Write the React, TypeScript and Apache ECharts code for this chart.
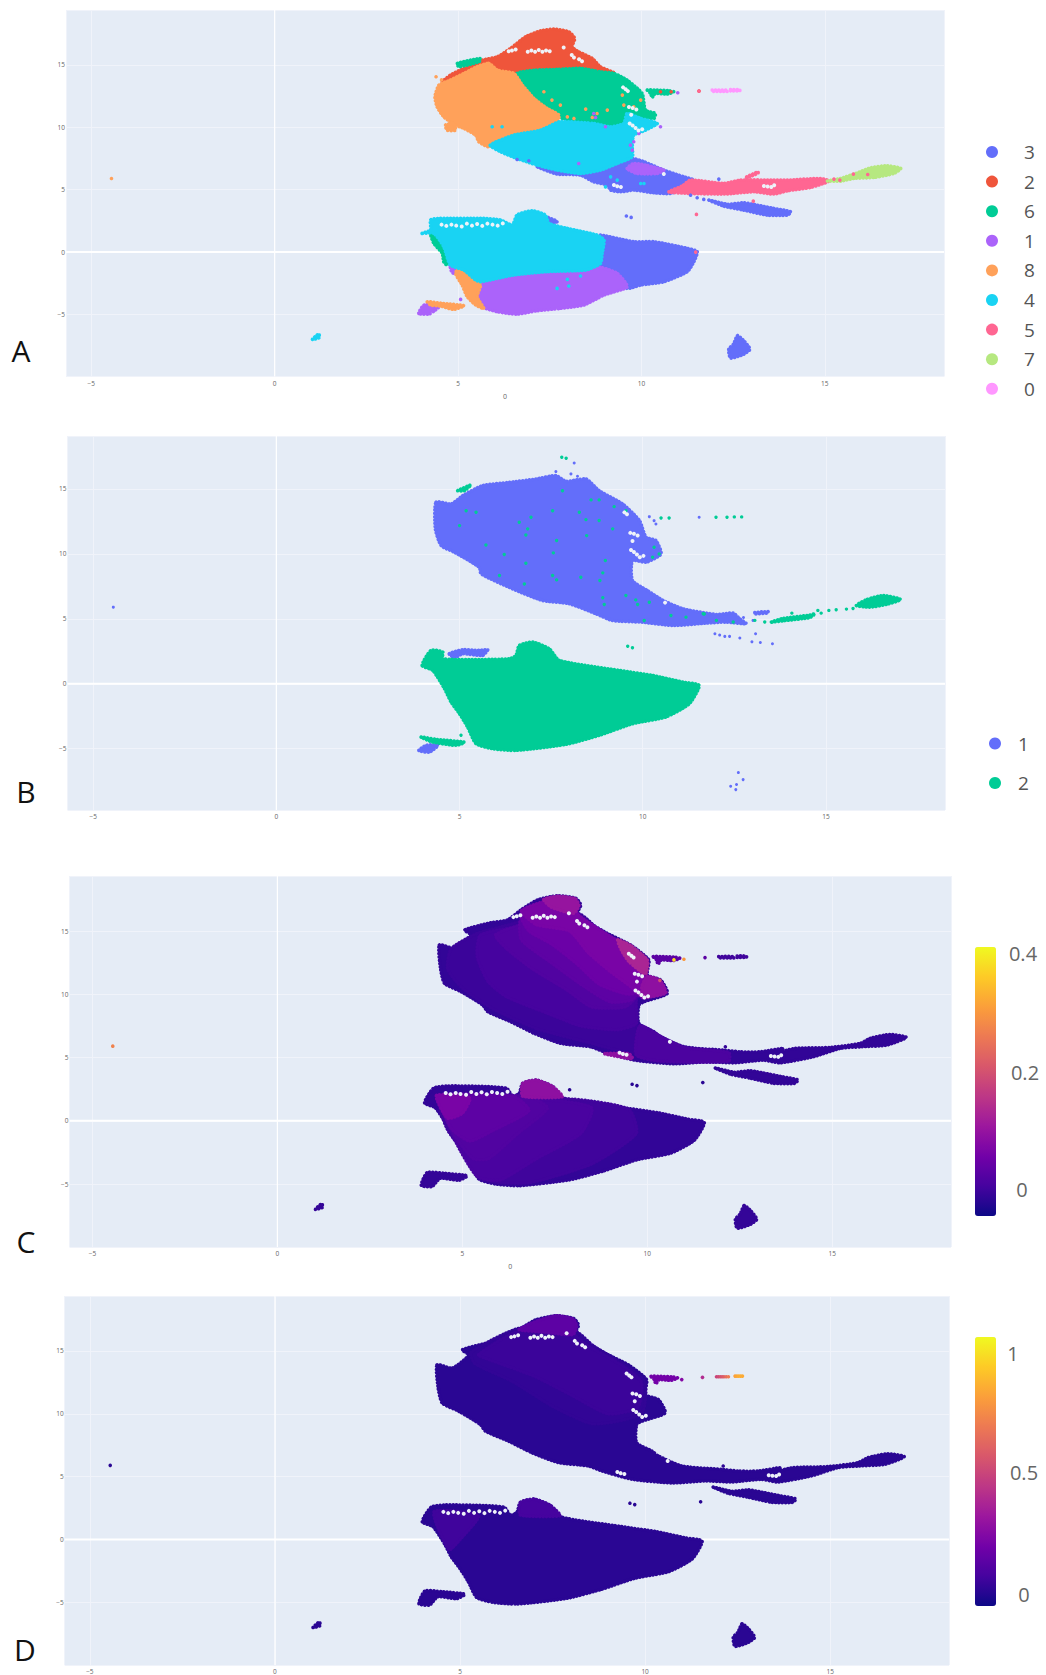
import React, { useEffect, useRef } from "react";
import * as echarts from "echarts";

type P = number[];
const FONT = "'Open Sans', 'Liberation Sans', sans-serif";
const BG = "#e5ecf6";
const HOLE = "#eef2f9";
const PLASMA = ["#0d0887", "#46039f", "#7201a8", "#9c179e", "#bd3786", "#d8576b", "#ed7953", "#fb9f3a", "#fdca26", "#f0f921"];

// ---------- Panel A clusters (umap coordinates)
const C2_RED: P[][] = [[[5.66,15.38],[6.07,15.65],[6.43,16.32],[6.84,17.25],[7.25,17.73],[7.61,17.87],[8.02,17.65],[8.18,17.12],[8.11,16.45],[8.29,16.05],[8.66,15.52],[8.88,14.85],[9.25,14.37],[8.88,14.45],[8.34,14.72],[7.7,14.64],[7.07,14.58],[6.61,14.32],[6.16,14.45],[5.88,15.25],[5.61,14.85],[5.29,14.32],[4.79,13.91],[4.57,13.65],[4.79,14.18],[5.16,14.72],[5.38,14.98]]];
const C8_ORANGE: P[][] = [
  [[5.84,15.12],[6.07,14.58],[6.52,14.32],[6.75,13.38],[7.07,12.31],[7.43,11.51],[7.75,10.98],[7.7,10.44],[7.25,9.77],[6.52,9.37],[5.84,8.44],[5.57,8.84],[5.48,9.37],[5.16,9.91],[4.93,10.18],[4.61,10.84],[4.43,11.64],[4.37,12.44],[4.48,13.38],[4.79,13.78],[5.16,14.32],[5.52,14.85]],
  [[4.66,10.18],[4.88,10.31],[4.93,9.77],[4.7,9.77]],
  [[5.02,-1.31],[5.25,-1.57],[5.61,-2.64],[5.52,-3.58],[5.7,-4.51],[5.48,-4.24],[5.25,-3.58],[5.11,-2.64],[4.93,-1.71]],
  [[4.16,-3.98],[4.57,-4.11],[5.16,-4.3],[4.88,-4.59],[4.52,-4.32],[4.25,-4.24]],
];
const C6_GREEN: P[][] = [
  [[6.61,14.32],[7.07,14.58],[7.7,14.64],[8.34,14.72],[8.88,14.45],[9.25,14.32],[9.61,13.78],[10.02,12.71],[10.11,11.38],[10.38,11.11],[10.34,10.71],[9.7,10.84],[9.61,10.17],[9.16,10.04],[8.7,10.31],[8.07,10.44],[7.75,10.84],[7.43,11.51],[7.07,12.31],[6.75,13.38]],
  [[4.98,15.12],[5.61,15.52],[5.57,15.25],[5.02,14.85]],
  [[10.16,12.98],[10.43,12.98],[10.75,12.93],[10.88,12.85],[10.7,12.66],[10.38,12.71],[10.29,12.39],[10.25,12.71]],
  [[4.25,1.5],[4.48,1.23],[4.66,0.56],[4.79,-0.64],[4.7,-1.04],[4.61,-0.77],[4.57,-0.1],[4.34,0.7]],
];
const C4_CYAN: P[][] = [
  [[5.88,8.57],[6.52,9.37],[7.25,9.77],[7.75,10.44],[8.07,10.44],[8.7,10.31],[9.16,10.04],[9.52,10.31],[9.61,11.11],[9.98,10.71],[10.43,10.31],[10.11,9.77],[9.79,9.37],[9.75,8.44],[9.75,7.64],[9.34,7.1],[8.88,6.57],[8.34,6.3],[7.7,6.57],[7.16,6.97],[6.61,7.5],[6.16,8.04]],
  [[4.02,1.5],[4.25,1.76],[4.25,2.57],[4.48,2.7],[5.7,2.7],[6.16,2.57],[6.48,2.17],[6.61,2.97],[7.02,3.31],[7.38,2.97],[7.48,2.3],[7.98,1.9],[8.79,1.36],[8.98,0.96],[8.93,-0.1],[8.88,-0.91],[8.48,-1.44],[7.43,-1.57],[6.52,-1.84],[5.61,-2.38],[5.48,-2.24],[5.16,-1.44],[4.79,-1.04],[4.61,0.43],[4.34,1.5]],
  [[1.03,-7],[1.2,-6.55],[1.22,-6.85]],
];
const C3_INDIGO: P[][] = [
  [[7.16,6.84],[7.7,6.44],[8.34,6.25],[8.88,6.84],[9.43,7.1],[9.75,7.5],[10.07,7.24],[10.61,6.57],[11.16,6.03],[11.43,5.77],[11.16,5.23],[10.79,4.7],[10.34,4.75],[9.79,4.97],[9.43,4.83],[9.16,4.97],[9.07,5.37],[8.7,5.63],[8.34,6.17],[7.7,6.25]],
  [[11.84,4.17],[12.34,3.84],[12.79,3.95],[13.16,3.76],[13.61,3.5],[14.07,3.23],[13.98,2.96],[13.43,2.96],[12.79,3.36],[12.25,3.68]],
  [[8.88,1.36],[9.79,0.83],[10.34,0.83],[11.25,0.3],[11.52,0.03],[11.43,-0.77],[11.25,-1.57],[10.61,-2.38],[9.98,-2.64],[9.61,-2.91],[9.48,-2.11],[9.16,-1.44],[8.79,-1.04],[8.93,-0.1],[8.98,0.96]],
  [[7.38,2.83],[7.7,2.44],[7.48,2.17]],
];
const ISLAND: P[] = [[12.62,-6.7],[12.79,-7.1],[12.96,-7.78],[12.79,-8.18],[12.43,-8.49],[12.38,-7.78],[12.51,-7.37]];
const C1_PURPLE: P[][] = [
  [[9.61,6.7],[9.79,7.1],[10.11,6.97],[10.61,6.57],[10.43,6.3],[9.88,6.3]],
  [[5.57,-2.51],[6.43,-1.92],[7.43,-1.57],[8.48,-1.44],[8.88,-1.23],[9.34,-1.71],[9.61,-2.78],[8.98,-3.44],[8.43,-4.24],[7.79,-4.51],[7.16,-4.7],[6.61,-4.97],[6.07,-4.78],[5.66,-4.38],[5.52,-3.58]],
  [[4.79,-1.12],[5.02,-1.17],[4.98,-1.71],[4.84,-1.65]],
  [[3.93,-4.91],[4.07,-4.25],[4.52,-4.25],[4.38,-4.65],[4.2,-4.97]],
];
const C5_PINK: P[][] = [
  [[10.75,4.83],[11.11,5.29],[11.34,5.77],[12.25,5.5],[12.7,5.77],[13.61,5.77],[13.98,5.77],[14.88,5.9],[15.11,5.69],[14.61,5.18],[13.98,4.91],[13.61,4.65],[13.07,4.83],[12.25,4.65],[11.34,4.7]],
  [[12.87,6.03],[13.18,6.43],[13.18,6.33],[12.87,5.95]],
];
const C7_LIME: P[][] = [[[15.07,5.69],[15.43,5.9],[15.84,6.3],[16.25,6.75],[16.7,6.92],[17.07,6.7],[16.88,6.3],[16.34,5.98],[15.79,5.9],[15.43,5.69]]];
const C0_ROSE: P[][] = [
  [[11.93,12.98],[12.34,12.98],[12.34,12.88],[11.93,12.88]],
  [[12.43,13.02],[12.68,13.02],[12.68,12.92],[12.43,12.92]],
];
const D2_RED: P[] = [[10.52,12.85],[10.81,12.85],[11.57,12.9]];
const D8_ORANGE: P[] = [[7.34,12.85],[7.56,12.18],[7.79,11.78],[7.98,10.84],[8.16,10.71],[8.48,11.46],[8.79,11.11],[9.07,11.38],[8.66,10.79],[9.48,12.58],[9.98,12.18],[9.79,11.64],[9.52,11.78],[-4.45,5.9],[4.4,14.05],[4.55,13.8]];
const D1_PURPLE: P[] = [[8.7,11.11],[9.02,10.04],[8.75,10.79],[9.7,8.57],[9.75,8.17],[9.79,8.84],[9.93,9.51],[10.52,10.04],[8.29,7.1],[5.07,-3.79],[10.99,12.77]];
const D4_CYAN: P[] = [[9.16,6.03],[9.34,5.77],[9.98,5.5],[10.07,5.5],[9.02,5.23],[7.7,-2.91],[7.98,-2.19],[8.02,-2.72],[8.34,-1.92],[5.93,10.04],[6.2,10.04]];
const D3_INDIGO: P[] = [[6.61,7.42],[6.93,7.32],[11.34,4.56],[11.52,4.35],[11.7,4.22],[12.11,5.85],[9.59,2.89],[9.72,2.78]];
const D5_PINK: P[] = [[15.25,5.85],[15.41,5.77],[15.78,6.25],[16.17,6.22],[11.5,3.02],[13.05,4.08],[11.48,0.0],[11.57,12.9]];

const HOLES_TOP: P[] = [[6.38,16.1],[6.47,16.16],[6.57,16.24],[6.9,16.05],[7.0,16.15],[7.1,16.05],[7.2,16.2],[7.3,16.05],[7.4,16.15],[7.5,16.1],[7.88,16.4],[8.1,15.8],[8.16,15.6],[8.3,15.45],[8.38,15.3],[9.5,13.2],[9.57,13.05],[9.63,12.9],[9.66,11.62],[9.76,11.55],[9.86,11.42],[9.72,11.0],[9.76,10.15],[9.84,9.95],[9.92,9.75],[10.02,9.85],[9.68,10.3],[10.61,6.25],[9.25,5.37],[9.34,5.28],[9.44,5.22]];
const HOLES_FRINGE: P[] = [[4.55,2.2],[4.68,2.1],[4.82,2.2],[4.95,2.12],[5.1,2.05],[5.24,2.28],[5.38,2.12],[5.52,2.25],[5.66,2.1],[5.8,2.28],[5.94,2.2],[6.08,2.12],[6.22,2.3]];
const HOLES_PINK: P[] = [[13.34,5.29],[13.44,5.25],[13.54,5.22],[13.62,5.35]];
const HOLES_TAIL_CD: P[] = [[13.34,5.12],[13.44,5.08],[13.54,5.05],[13.62,5.18]];

// ---------- Panel B batches
const B1_BODY: P[][] = [
  [[4.36,13.98],[4.77,13.85],[5.09,14.49],[5.63,15.26],[6.36,15.51],[7.09,15.77],[7.63,16.03],[7.91,15.59],[8.45,15.77],[8.81,14.87],[9.45,13.85],[9.91,12.57],[10.09,11.28],[10.36,11.03],[10.5,10],[10.09,9.36],[9.72,9.49],[9.72,7.95],[10.13,7.18],[10.56,6.41],[11.1,5.77],[12.01,5.34],[12.47,5.44],[12.65,5],[12.83,4.62],[12.28,4.75],[11.74,4.67],[10.83,4.49],[10,4.74],[9.18,4.87],[8.72,5.39],[8,6.16],[7.27,6.41],[6.45,7.31],[5.59,8.46],[5.54,8.97],[4.86,10.13],[4.5,10.64],[4.34,11.92]],
  [[13.06,5.48],[13.42,5.56],[13.42,5.46],[13.06,5.38]],
  [[4.72,2.31],[5.09,2.62],[5.54,2.57],[5.77,2.62],[5.63,2.18],[5.09,2.31],[4.86,2]],
  [[3.89,-5.13],[4.09,-4.74],[4.41,-4.74],[4.18,-5.26]],
];
const B2_BODY: P[][] = [
  [[3.98,1.41],[4.22,2.57],[4.54,2.44],[4.54,1.92],[6.36,1.92],[6.54,2.18],[6.63,2.95],[7,3.21],[7.45,2.69],[7.72,1.8],[9.36,1.03],[10.27,0.64],[11.09,0.13],[11.54,-0.13],[11.27,-1.54],[10.63,-2.56],[9.72,-3.08],[8.81,-3.97],[7.9,-4.67],[6.54,-5.13],[5.9,-5],[5.45,-4.61],[5.22,-3.33],[5,-2.31],[4.77,-1.41],[4.59,-0.38],[4.27,1.03]],
  [[13.51,4.75],[13.83,5.03],[14.56,5.29],[14.7,5.4],[14.56,5.1],[13.83,4.85]],
  [[15.83,6.03],[16.1,6.47],[16.56,6.8],[17.04,6.49],[16.65,6.11],[16.19,5.9]],
  [[4.95,14.87],[5.31,15.31],[5.13,14.87]],
  [[3.95,-4.1],[4.36,-4.28],[5.13,-4.5],[4.91,-4.74],[4.27,-4.49]],
];
const B1_DOTS: P[] = [[8.13,17],[7.63,16.34],[8.04,16.16],[8.22,15.98],[10.18,12.87],[10.31,12.56],[10.36,12.3],[11.54,12.82],[11.97,3.85],[12.1,3.75],[12.24,3.65],[12.37,3.65],[12.65,3.52],[12.98,3.23],[13.21,3.18],[13.54,3.08],[13.08,3.85],[13.01,4.88],[12.75,5.1],[-4.45,5.9],[12.61,-6.84],[12.74,-7.38],[12.4,-7.89],[12.56,-7.76],[12.54,-8.15]];
const B2_DOTS: P[] = [[7.79,17.44],[7.91,17.36],[5,12.18],[5.45,13.21],[5.18,13.33],[6.63,12.44],[6.95,12.82],[6.86,11.93],[6.81,11.46],[5.72,10.69],[6.22,9.95],[6.81,9.28],[7.56,10.08],[7.65,11.03],[7.54,13.33],[8.27,13.21],[8.45,12.64],[8.81,12.57],[9.18,11.93],[8.47,11.41],[8.98,9.49],[8.91,8.54],[8.83,7.95],[8.31,8.21],[7.54,8.34],[7.65,8],[6.77,7.69],[6.09,8.34],[8.91,6.62],[8.95,6.1],[9.54,6.8],[9.81,6.46],[9.86,6.1],[10.18,6.28],[10.04,4.87],[10.77,5.26],[11.18,5.13],[11.68,5.38],[10.27,9.74],[10.45,10],[10.31,10.51],[7.81,14.87],[8.59,14.16],[8.81,14.16],[9.22,13.64],[9.54,13.33],[10.5,12.77],[10.72,12.77],[12,12.82],[12.3,12.82],[12.5,12.85],[12.7,12.85],[11.65,5.39],[12.01,4.88],[12.47,4.75],[13.06,4.88],[13.33,4.75],[14.07,5.44],[14.78,5.65],[14.87,5.44],[15.08,5.65],[15.28,5.7],[15.56,5.75],[15.74,5.8],[9.59,2.89],[9.72,2.78],[5.04,-3.97]];
const HOLES_B: P[] = [[9.5,13.2],[9.57,13.05],[9.66,11.62],[9.76,11.55],[9.86,11.42],[9.72,11.0],[9.76,10.15],[9.84,9.95],[9.92,9.75],[10.02,9.85],[9.68,10.3],[10.61,6.25]];

// ---------- Panels C and D: shared outlines
const UNION_UPPER: P[] = [[4.38,13.89],[4.79,13.63],[5.24,14.68],[5.06,15.08],[5.78,15.66],[6.22,15.87],[6.58,16.66],[7.03,17.45],[7.57,17.79],[8.07,17.58],[8.2,17.05],[8.11,16.4],[8.38,15.74],[8.92,14.81],[9.55,13.89],[10.04,12.71],[10,11.52],[10.36,11.13],[10.54,10.07],[9.91,9.41],[9.77,9.15],[9.77,7.7],[10.18,7.04],[10.36,6.64],[10.99,5.85],[12.07,5.58],[12.52,5.45],[13.05,5.45],[13.68,5.72],[13.41,5.32],[14,5.72],[14.94,5.8],[15.75,6.11],[16.02,6.51],[16.56,6.82],[17,6.59],[16.47,5.98],[15.79,5.85],[15.21,5.72],[14.49,5.06],[13.59,4.58],[13.14,4.79],[12.34,4.58],[11.62,4.66],[10.72,4.5],[9.64,4.8],[8.83,5.46],[8.47,5.85],[7.66,6.12],[6.94,6.91],[6.31,7.83],[5.69,8.62],[5.55,9.15],[4.97,10.2],[4.52,10.86],[4.41,12.05]];
const UNION_LOWER: P[] = [[3.98,1.41],[4.22,2.57],[4.6,2.75],[5.7,2.7],[6.2,2.55],[6.36,1.92],[6.54,2.18],[6.63,2.95],[7,3.21],[7.45,2.69],[7.72,1.8],[9.36,1.03],[10.27,0.64],[11.09,0.13],[11.54,-0.13],[11.27,-1.54],[10.63,-2.56],[9.72,-3.08],[8.81,-3.97],[7.9,-4.67],[6.54,-5.13],[5.9,-5],[5.45,-4.61],[5.22,-3.33],[5,-2.31],[4.77,-1.41],[4.59,-0.38],[4.27,1.03]];
const UNION_LEFTTAIL: P[] = [[3.89,-5.1],[4.05,-4.1],[4.5,-4.15],[5.13,-4.35],[4.91,-4.7],[4.4,-4.55],[4.18,-5.2]];
const LOW_TAIL: P[] = C3_INDIGO[1];
const SMALL: P[] = [[1.03,-7],[1.2,-6.55],[1.22,-6.85]];
const SPECK_STRIP: P[] = [[10.16,12.98],[10.43,12.98],[10.75,12.93],[10.88,12.85],[10.7,12.66],[10.38,12.71],[10.29,12.39],[10.25,12.71]];

// panel C regions painted back to front: [value, outline]
const C_VALUES = [-0.012, -0.012, -0.012, -0.004, 0.006, 0.018, 0.032, 0.048, 0.064, 0.128, 0.1, 0.09, 0.09, 0.012, 0, 0.01, 0.018, 0.032, 0.064, 0.09, -0.01, -0.01, -0.01, 0.03, 0.0, 0.0];
const C_OUTLINES: P[][] = [
  UNION_UPPER, UNION_LOWER, LOW_TAIL,
  [[4.7,13.6],[5.4,14.8],[6.4,15.6],[7.3,16.5],[8.2,16.3],[9,14],[9.7,11],[9.7,7.5],[10.2,6.6],[9.6,5.4],[8.4,6.2],[7,7.3],[5.8,8.9],[5,10.5],[4.6,12]],
  [[5.5,14.7],[7,15.5],[8.3,15.5],[9.5,13.6],[9.9,12.5],[9.9,11],[9.7,9.5],[9.7,7.7],[9.2,7.2],[8.2,7.5],[7.3,8.5],[6.2,9.8],[5.7,11],[5.4,13]],
  [[5.9,14.7],[7,15.8],[8.2,15.8],[9.4,13.7],[9.85,12],[9.8,10.2],[9.4,9],[8.5,9],[7.8,10.4],[6.9,12],[6.2,13.6]],
  [[6.6,16],[8.1,16],[8.5,15.4],[9.4,13.8],[9.85,12.4],[9.85,10.8],[9.6,9.6],[9,9.4],[8.2,10.8],[7.4,12.5],[6.6,14.3]],
  [[6.6,16.2],[7.5,16.8],[8.1,16.3],[8.4,15.5],[9.4,13.9],[9.9,12.4],[9.9,10.5],[9.5,10],[8.7,10.8],[8.1,12.4],[7.4,14],[6.8,15]],
  [[6.6,16.6],[7.3,17.4],[8.05,17.5],[8.1,16.4],[8.4,15.7],[9.3,14],[10,12.7],[9.95,11.5],[10.3,11.1],[10.4,10.2],[9.9,9.7],[9.6,10.5],[9,11.8],[8.4,13.3],[7.9,15],[7,15.5]],
  [[9.2,14.3],[9.55,13.85],[10,12.7],[9.95,11.6],[9.5,12.6],[9.3,13.5]],
  [[7.2,17.5],[7.6,17.75],[8.05,17.55],[8.15,17],[8,16.4],[7.4,16.9]],
  [[10,11.4],[10.34,11.1],[10.5,10.1],[9.9,9.8],[9.85,10.6]],
  [[8.85,5.3],[9.6,4.9],[9.5,5.3]],
  [[9.8,7.5],[10.4,6.6],[11,5.8],[12.2,5.4],[12.2,4.7],[10.4,4.7],[9.7,5.2]],
  [[4.4,1.7],[8,1.7],[9.5,0.9],[9.7,-1],[8.5,-3.4],[6.8,-4.9],[5.7,-4.7],[5.1,-2.6],[4.6,-0.7]],
  [[4.5,1.5],[7.5,1.6],[8.5,1],[8.2,-1],[7,-3],[6,-4.7],[5.4,-4.4],[4.8,-1.5]],
  [[4.4,1.9],[6.8,1.9],[7.3,1],[6.5,-1],[5.7,-3],[5.3,-3],[4.8,-1.2]],
  [[4.4,1.9],[6.4,1.9],[6.8,0.8],[5.8,-0.8],[5.2,-1.6],[4.7,-0.6]],
  [[4.3,2],[5.2,1.8],[5,0.6],[4.6,0.2]],
  [[6.63,1.95],[6.63,2.95],[7,3.21],[7.45,2.69],[7.7,1.9]],
  UNION_LEFTTAIL, ISLAND, SMALL, SPECK_STRIP, C0_ROSE[0], C0_ROSE[1],
];
const C_POINTS: P[] = [[-4.45,5.9,0.27],[10.72,12.72,0.38],[10.99,12.77,0.3],[11.56,12.9,0.03],[10.34,11.1,0.2],[11.5,3.02,-0.02],[9.59,2.89,-0.02],[9.72,2.78,-0.02],[7.9,2.45,-0.02],[12.11,5.85,-0.01]];

const D_VALUES = [0.012, 0.012, 0.012, 0.03, 0.05, 0.14, 0.06, 0.075, 0.012, 0.012, 0.012, 0.2];
const D_OUTLINES: P[][] = [
  UNION_UPPER, UNION_LOWER, LOW_TAIL,
  [[5.3,14.9],[6.6,16.8],[8.1,16.6],[8.6,15.4],[9.5,13.8],[10,12.5],[9.9,10],[8.6,9.2],[7.5,10.6],[6.4,12.6],[5.4,14]],
  [[5.5,14.7],[6.6,16.6],[8,16.4],[8.4,15.5],[9.4,13.8],[9.9,12.5],[9.8,10.5],[9,10],[8,11.5],[7,13],[5.8,14.3]],
  [[6.6,16.7],[7.1,17.4],[7.6,17.8],[8.05,17.55],[8.15,17],[8.05,16.3],[7.3,16.5]],
  [[4.3,2.2],[5.5,1.9],[5,0],[4.7,-0.8]],
  [[6.63,1.95],[6.63,2.95],[7,3.21],[7.45,2.69],[7.7,1.9]],
  UNION_LEFTTAIL, ISLAND, SMALL, SPECK_STRIP,
];
const D_POINTS: P[] = [[-4.45,5.9,0.01],[11.55,12.9,0.4],[11.93,12.95,0.5],[11.98,12.95,0.52],[12.03,12.95,0.55],[12.08,12.95,0.57],[12.13,12.95,0.6],[12.19,12.95,0.65],[12.25,12.95,0.7],[12.43,13,0.82],[12.48,13,0.84],[12.53,13,0.86],[12.58,13,0.86],[12.63,13,0.85],[10.99,12.72,0.25],[11.5,3,0.01],[9.59,2.89,0.01],[9.72,2.78,0.01],[12.11,5.85,0.02]];

// ---------- Labels
const X_TICKS = [-5, 0, 5, 10, 15];
const Y_TICKS = [-5, 0, 5, 10, 15];
const LEGEND_A = ["3", "2", "6", "1", "8", "4", "5", "7", "0"];
const LEGEND_A_COLORS = ["#636efa", "#ef553b", "#00cc96", "#ab63fa", "#ffa15a", "#19d3f3", "#ff6692", "#b6e880", "#ff97ff"];
const LEGEND_B = ["1", "2"];
const LEGEND_B_COLORS = ["#636efa", "#00cc96"];

const PANELS = [
  { left: 66, top: 10, right: 944, bottom: 376.5, xr: [-5.69, 18.25], yr: [-9.97, 19.4], xname: "0" },
  { left: 67.5, top: 436, right: 945, bottom: 810, xr: [-5.7, 18.25], yr: [-9.72, 19.08], xname: "" },
  { left: 69.5, top: 876, right: 951, bottom: 1247, xr: [-5.62, 18.21], yr: [-9.98, 19.35], xname: "0" },
  { left: 64.7, top: 1296, right: 949, bottom: 1665.7, xr: [-5.68, 18.21], yr: [-9.98, 19.37], xname: "" },
];

const fmt = (v: number) => (X_TICKS.includes(v) || Y_TICKS.includes(v) ? String(v).replace("-", "\u2212") : "");
const polyStyle = (c: string) => ({ fill: c, stroke: c, lineWidth: 3.6, lineDash: [0.1, 3.2], lineCap: "round", lineJoin: "round" });

function polySeries(panel: number, name: string, color: string, polys: P[][]) {
  return {
    type: "custom", name, xAxisIndex: panel, yAxisIndex: panel, silent: true,
    itemStyle: { color },
    data: polys.map((p) => p[0]),
    renderItem: (params: any, api: any) => ({
      type: "polygon",
      shape: { points: polys[params.dataIndex].map((p) => api.coord(p)), smooth: 0.2 },
      style: polyStyle(color),
    }),
  };
}
function dotSeries(panel: number, name: string, color: string, pts: P[], size = 3.6) {
  return {
    type: "scatter", name, xAxisIndex: panel, yAxisIndex: panel, silent: true,
    symbol: "circle", symbolSize: size, itemStyle: { color, opacity: 1 }, data: pts,
  };
}
function mappedPolySeries(panel: number, polys: P[][], values: number[]) {
  return {
    type: "custom", name: "v" + panel, xAxisIndex: panel, yAxisIndex: panel, silent: true,
    encode: { x: 0, y: 1 },
    data: polys.map((p, i) => [p[0][0], p[0][1], values[i]]),
    renderItem: (params: any, api: any) => ({
      type: "polygon",
      shape: { points: polys[params.dataIndex].map((p) => api.coord(p)), smooth: 0.2 },
      style: polyStyle(api.visual("color")),
    }),
  };
}
function zeroLines(panel: number, xr: number[], yr: number[]) {
  const base = { type: "line", z: 1, xAxisIndex: panel, yAxisIndex: panel, silent: true, symbol: "none" };
  return [
    { ...base, name: "zx" + panel, lineStyle: { color: "#ffffff", width: 2 }, data: [[xr[0], 0], [xr[1], 0]] },
    { ...base, name: "zy" + panel, lineStyle: { color: "#ffffff", width: 1.2 }, data: [[0, yr[0]], [0, yr[1]]] },
  ];
}

export default function App() {
  const ref = useRef<HTMLDivElement>(null);
  useEffect(() => {
    document.body.style.margin = "0";
    document.body.style.background = "#ffffff";
    const chart = echarts.init(ref.current!, undefined, { renderer: "svg" });
    const series: any[] = [];
    PANELS.forEach((p, i) => series.push(...zeroLines(i, p.xr, p.yr)));
    const HOLES_ALL = [...HOLES_TOP, ...HOLES_FRINGE];

    // Panel A, in the plotting order of its legend
    series.push(polySeries(0, "3", LEGEND_A_COLORS[0], [...C3_INDIGO, ISLAND]), dotSeries(0, "3", LEGEND_A_COLORS[0], D3_INDIGO));
    series.push(polySeries(0, "2", LEGEND_A_COLORS[1], C2_RED), dotSeries(0, "2", LEGEND_A_COLORS[1], D2_RED));
    series.push(polySeries(0, "6", LEGEND_A_COLORS[2], C6_GREEN));
    series.push(polySeries(0, "1", LEGEND_A_COLORS[3], C1_PURPLE));
    series.push(polySeries(0, "8", LEGEND_A_COLORS[4], C8_ORANGE));
    series.push(polySeries(0, "4", LEGEND_A_COLORS[5], C4_CYAN));
    series.push(dotSeries(0, "8", LEGEND_A_COLORS[4], D8_ORANGE), dotSeries(0, "1", LEGEND_A_COLORS[3], D1_PURPLE), dotSeries(0, "4", LEGEND_A_COLORS[5], D4_CYAN));
    series.push(polySeries(0, "5", LEGEND_A_COLORS[6], C5_PINK));
    series.push(polySeries(0, "7", LEGEND_A_COLORS[7], C7_LIME), dotSeries(0, "5", LEGEND_A_COLORS[6], D5_PINK));
    series.push(polySeries(0, "0", LEGEND_A_COLORS[8], C0_ROSE));
    series.push(dotSeries(0, "holesA", HOLE, [...HOLES_ALL, ...HOLES_PINK], 4));

    // Panel B
    series.push(polySeries(1, "1", LEGEND_B_COLORS[0], B1_BODY), dotSeries(1, "1", LEGEND_B_COLORS[0], B1_DOTS, 3));
    series.push(polySeries(1, "2", LEGEND_B_COLORS[1], B2_BODY), dotSeries(1, "2", LEGEND_B_COLORS[1], B2_DOTS, 3.4));
    series.push(dotSeries(1, "holesB", HOLE, HOLES_B, 4));

    // Panels C and D, coloured through the visual maps
    const cIdx: number[] = [];
    cIdx.push(series.length); series.push(mappedPolySeries(2, C_OUTLINES, C_VALUES));
    series.push(dotSeries(2, "holesC", HOLE, [...HOLES_ALL, ...HOLES_TAIL_CD], 4));
    cIdx.push(series.length); series.push({ ...dotSeries(2, "pc", "#000", C_POINTS, 3.6), itemStyle: { opacity: 1 } });
    const dIdx: number[] = [];
    dIdx.push(series.length); series.push(mappedPolySeries(3, D_OUTLINES, D_VALUES));
    series.push(dotSeries(3, "holesD", HOLE, [...HOLES_ALL, ...HOLES_TAIL_CD], 4));
    dIdx.push(series.length); series.push({ ...dotSeries(3, "pd", "#000", D_POINTS, 3.6), itemStyle: { opacity: 1 } });

    const label = (text: string, x: number, y: number, size: number, color: string, align = "center") => ({
      type: "text", x, y, silent: true,
      style: { text, fill: color, font: `${size}px ${FONT}`, textAlign: align, textVerticalAlign: "middle" },
    });
    const vm = (index: number[], min: number, max: number, left: number, top: number, w: number, h: number) => ({
      type: "continuous", seriesIndex: index, dimension: 2, min, max, left, top, itemWidth: w, itemHeight: h,
      padding: 0, calculable: false, hoverLink: false, realtime: false, orient: "vertical",
      inRange: { color: PLASMA }, borderWidth: 0, text: undefined,
    });
    const legend = (names: string[], colors: string[], left: number, top: number, gap: number, pad: number) => ({
      orient: "vertical", left, top, padding: 0, itemWidth: 12, itemHeight: 12, itemGap: gap,
      icon: "circle", selectedMode: false,
      textStyle: { fontFamily: FONT, fontSize: 19, color: "#555555", padding: [0, 0, 0, pad] },
      data: names.map((name, i) => ({ name, itemStyle: { color: colors[i] } })),
    });

    chart.setOption({
      animation: false,
      backgroundColor: "#ffffff",
      grid: PANELS.map((p) => ({
        left: p.left, top: p.top, width: p.right - p.left, height: p.bottom - p.top,
        show: true, backgroundColor: BG, borderWidth: 0,
      })),
      xAxis: PANELS.map((p, i) => ({
        type: "value", gridIndex: i, min: p.xr[0], max: p.xr[1], minInterval: 5, maxInterval: 5,
        name: p.xname, nameLocation: "middle", nameGap: 16,
        nameTextStyle: { fontSize: 7, color: "#666666", fontFamily: FONT },
        axisLine: { show: false }, axisTick: { show: false },
        axisLabel: { fontSize: 6.5, color: "#666666", fontFamily: FONT, margin: 3, formatter: fmt, showMinLabel: false, showMaxLabel: false },
        splitLine: { show: true, lineStyle: { color: "#f0f3fa", width: 1 } },
      })),
      yAxis: PANELS.map((p, i) => ({
        type: "value", gridIndex: i, min: p.yr[0], max: p.yr[1], minInterval: 5, maxInterval: 5,
        axisLine: { show: false }, axisTick: { show: false },
        axisLabel: { fontSize: 6.5, color: "#666666", fontFamily: FONT, margin: 1, formatter: fmt, showMinLabel: false, showMaxLabel: false },
        splitLine: { show: true, lineStyle: { color: "#f0f3fa", width: 1 } },
      })),
      legend: [
        legend(LEGEND_A, LEGEND_A_COLORS, 986, 142.5, 10.6, 21),
        legend(LEGEND_B, LEGEND_B_COLORS, 989, 734, 20.5, 12),
      ],
      visualMap: [vm(cIdx, -0.045, 0.41, 975, 947, 21, 269), vm(dIdx, -0.05, 1.066, 975, 1337, 21, 269)],
      series,
      graphic: [
        label("A", 21, 350, 30, "#111111"),
        label("B", 26, 791, 30, "#111111"),
        label("C", 26, 1241, 30, "#111111"),
        label("D", 25, 1649, 30, "#111111"),
        label("0.4", 1023, 953, 20, "#666666"),
        label("0.2", 1025, 1072, 20, "#666666"),
        label("0", 1022, 1189, 20, "#666666"),
        label("1", 1013, 1353, 20, "#666666"),
        label("0.5", 1024, 1472, 20, "#666666"),
        label("0", 1024, 1594, 20, "#666666"),
      ],
    });
    return () => chart.dispose();
  }, []);
  return <div ref={ref} style={{ width: 1046, height: 1675 }} />;
}
